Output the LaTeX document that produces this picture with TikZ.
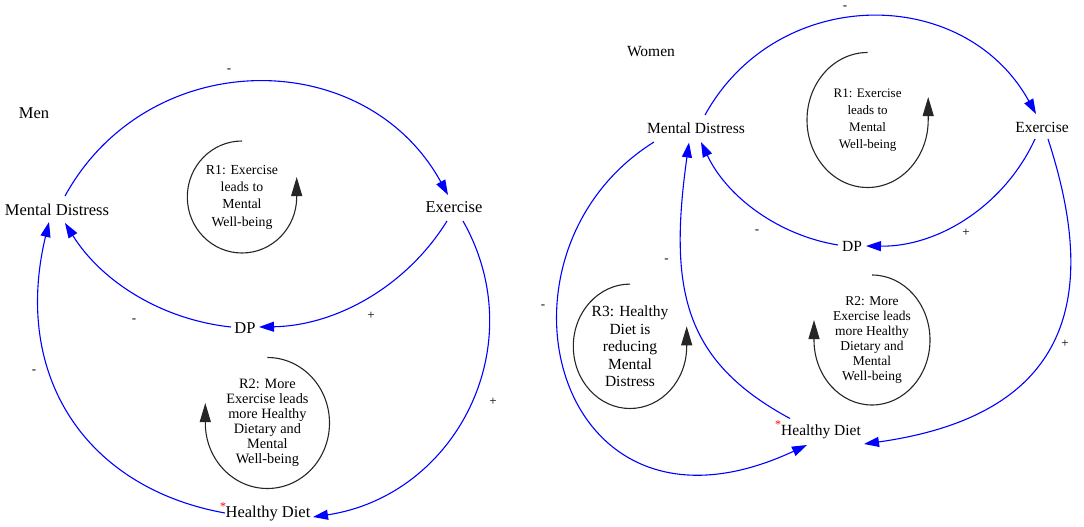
\documentclass[tikz,border=0pt]{standalone}
\usepackage{fontspec}
\setmainfont{Liberation Serif}
\usetikzlibrary{arrows.meta}

\begin{document}
\begin{tikzpicture}[x=1pt,y=1pt,
   var/.style={inner sep=0pt,font=\rmfamily\fontsize{16.5}{20}\selectfont},
   wvar/.style={inner sep=0pt,font=\rmfamily\fontsize{15.5}{19}\selectfont},
   sign/.style={inner sep=0pt,font=\rmfamily\fontsize{13}{13}\selectfont},
   star/.style={inner sep=0pt,text=red,font=\rmfamily\fontsize{12}{12}\selectfont},
   note/.style={inner sep=0pt,align=center},
   link/.style={color=blue,line width=1.1pt,-{Triangle[length=15pt,width=10pt]}},
   turn/.style={color=black!85,line width=1.1pt,-{Triangle[length=19pt,width=11pt]}}]

   \useasboundingbox (0,0) rectangle (1084,-527);

   % Men
   \node[var] (men) at (34,-113) {Men};
   \node[var] (md) at (57,-210) {Mental Distress};
   \node[var] (ex) at (454,-207) {Exercise};
   \node[var] (dp) at (245,-328.5) {DP};
   \node[var] (hd) at (268,-514) {Healthy Diet};
   \node[star] (hdstar) at (223,-507) {*};

   \draw[link] ([shift={(8,14)}]md.center) .. controls +(83,151) and +(-83,151) .. ([shift={(-6,12)}]ex.center);
   \draw[link] ([shift={(-7,-14)}]ex.center) .. controls +(-40.5,-65.4) and +(77,1.3) .. ([shift={(14,1.5)}]dp.center);
   \draw[link] ([shift={(-14,1.5)}]dp.center) .. controls +(-69,7.4) and +(36.8,-58.9) .. ([shift={(8,-13)}]md.center);
   \draw[link] ([shift={(9,-14)}]ex.center) .. controls +(70.8,-125.2) and +(142.2,21.3) .. ([shift={(45,-3)}]hd.center);
   \draw[link] ([shift={(-43,1)}]hd.center) .. controls +(-137.8,24.8) and +(-37.3,-155.6) .. ([shift={(-8,-12)}]md.center);

   \node[sign] (s1) at (229,-71) {-};
   \node[sign] (s2) at (371,-316) {+};
   \node[sign] (s3) at (134,-321) {-};
   \node[sign] (s4) at (493,-402) {+};
   \node[sign] (s5) at (34,-372) {-};

   \node[note,font=\rmfamily\fontsize{13.8}{17.3}\selectfont] (r1) at (242,-197)
      {R1: Exercise\\leads to\\Mental\\Well-being};
   \draw[turn] ([yshift=56]r1.center) arc[start angle=90,end angle=360,x radius=54.7,y radius=56] -- ++(0,20);
   \node[note,font=\rmfamily\fontsize{14.3}{15}\selectfont] (r2) at (267.4,-423)
      {R2: More\\Exercise leads\\more Healthy\\Dietary and\\Mental\\Well-being};
   \draw[turn] ([yshift=65.5]r2.center) arc[start angle=90,end angle=-180,x radius=62.1,y radius=65.5] -- ++(0,20);

   % Women
   \node[wvar] (women) at (651,-52) {Women};
   \node[wvar] (wmd) at (696,-128) {Mental Distress};
   \node[wvar] (wex) at (1042,-127) {Exercise};
   \node[wvar] (wdp) at (852,-246.5) {DP};
   \node[wvar] (whd) at (821,-431.5) {Healthy Diet};
   \node[star] (whdstar) at (778,-424.5) {*};

   \draw[link] ([shift={(9,13)}]wmd.center) .. controls +(72,130.3) and +(-72,130.3) .. ([shift={(-6,13)}]wex.center);
   \draw[link] ([shift={(-7,-12)}]wex.center) .. controls +(-30.3,-66.1) and +(72.7,-0.9) .. ([shift={(14,0.5)}]wdp.center);
   \draw[link] ([shift={(-14,1.5)}]wdp.center) .. controls +(-59.8,9.8) and +(25.9,-54.8) .. ([shift={(5,-14)}]wmd.center);
   \draw[link] ([shift={(-31,13)}]whd.center) .. controls +(-105.6,57.1) and +(-20.9,-148.5) .. ([shift={(-7,-14.5)}]wmd.center);
   \draw[link] ([shift={(-42,-14)}]wmd.center) .. controls +(-178.1,-111.3) and +(-253.8,-118.3) .. ([shift={(-14,-13.5)}]whd.center);
   \draw[link] ([shift={(6,-12)}]wex.center) .. controls +(43.3,-133.1) and +(227.8,32) .. ([shift={(43,-12.5)}]whd.center);

   \node[sign] (w1) at (845,-8) {-};
   \node[sign] (w2) at (966,-233) {+};
   \node[sign] (w3) at (757,-232) {-};
   \node[sign] (w4) at (666.5,-260.5) {-};
   \node[sign] (w5) at (543,-307) {-};
   \node[sign] (w6) at (1065,-343.5) {+};

   \node[note,font=\rmfamily\fontsize{13}{17.2}\selectfont] (wr1) at (867.6,-120)
      {R1: Exercise\\leads to\\Mental\\Well-being};
   \draw[turn] ([yshift=67.5]wr1.center) arc[start angle=90,end angle=360,x radius=60.6,y radius=67.5] -- ++(0,23);
   \node[note,font=\rmfamily\fontsize{13.5}{15}\selectfont] (wr2) at (872,-340)
      {R2: More\\Exercise leads\\more Healthy\\Dietary and\\Mental\\Well-being};
   \draw[turn] ([yshift=65]wr2.center) arc[start angle=90,end angle=-180,x radius=58,y radius=65] -- ++(0,20);
   \node[note,font=\rmfamily\fontsize{15.5}{17.5}\selectfont] (wr3) at (630,-346.3)
      {R3: Healthy\\Diet is\\reducing\\Mental\\Distress};
   \draw[turn] ([yshift=62.2]wr3.center) arc[start angle=90,end angle=360,x radius=56.7,y radius=62.2] -- ++(0,20);

\end{tikzpicture}
\end{document}
